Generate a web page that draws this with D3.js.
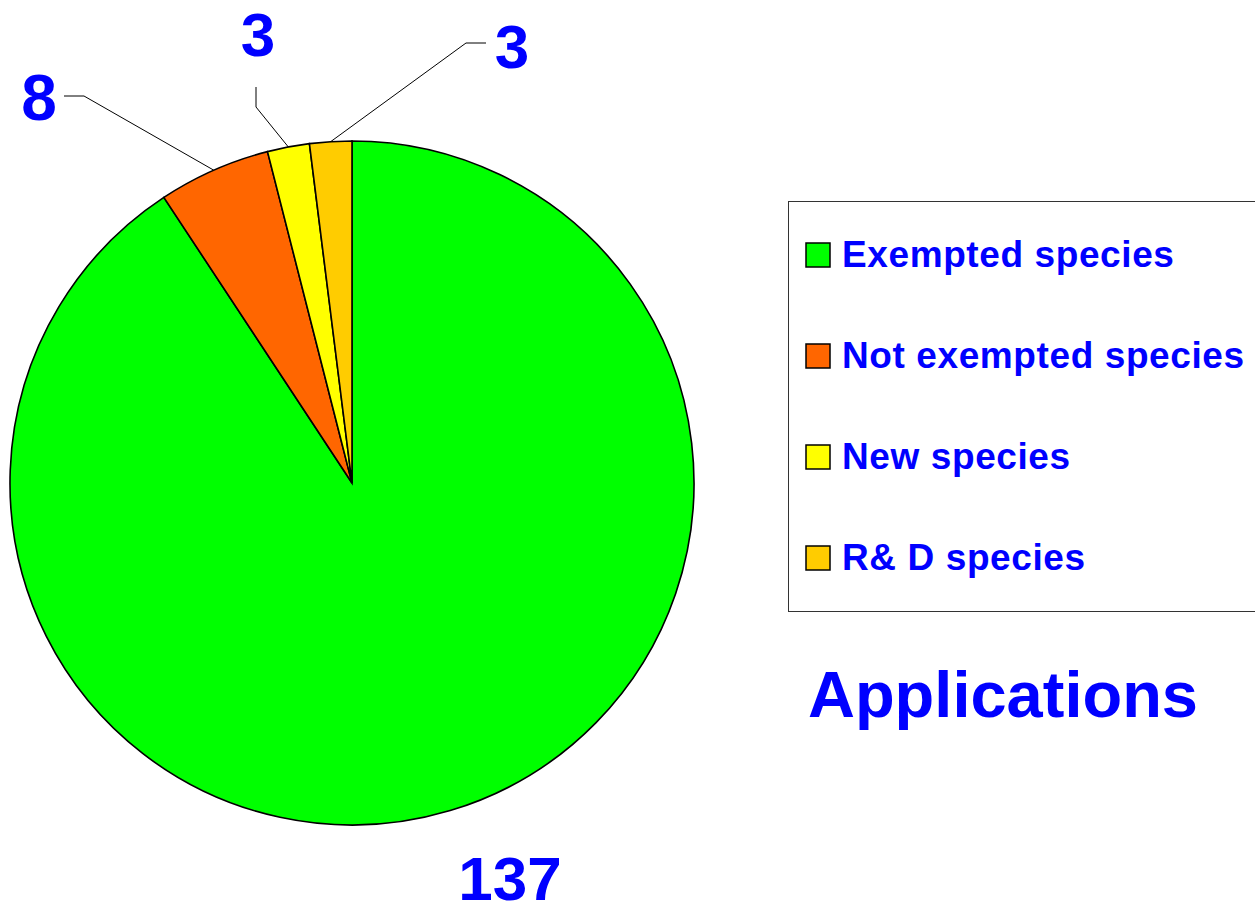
<!DOCTYPE html>
<html>
  <head>
    <title>Applications</title>
    <script src="https://cdnjs.cloudflare.com/ajax/libs/d3/7.8.5/d3.min.js"></script>
    <style>
      body {
        margin: 0;
        background: #ffffff;
        font-family: "Liberation Sans", Arial, Helvetica, sans-serif;
      }
      .slice {
        stroke: #000;
        stroke-width: 1.6px;
      }
      .leader {
        stroke: #000;
        stroke-width: 1px;
        fill: none;
      }
      .value-label,
      .legend-label,
      .title {
        fill: #0000ff;
        font-weight: bold;
      }
    </style>
  </head>
  <body>
    <svg id="chart" width="1255" height="907"></svg>
    <script>
      // Data
      const categories = [
        "Exempted species",
        "Not exempted species",
        "New species",
        "R& D species",
      ];
      const values = [137, 8, 3, 3];
      const colors = ["#00ff00", "#ff6600", "#ffff00", "#ffcc00"];
      const title = "Applications";

      const svg = d3.select("#chart");
      const cx = 352;
      const cy = 483;
      const radius = 342;

      const pie = d3.pie().sort(null).value((d) => d.value);
      const arc = d3.arc().innerRadius(0).outerRadius(radius);
      const rows = categories.map((c, i) => ({
        name: c,
        value: values[i],
        color: colors[i],
      }));
      const arcs = pie(rows);

      const g = svg.append("g").attr("transform", `translate(${cx},${cy})`);

      g.selectAll("path.slice")
        .data(arcs)
        .enter()
        .append("path")
        .attr("class", "slice")
        .attr("fill", (d) => d.data.color)
        .attr("d", arc);

      // Label placement (elbow point, label point relative to pie centre)
      const labelLayout = [
        { elbow: null, label: [158, 417], size: 62 },
        { elbow: [-268, -387], end: [-288, -387], label: [-313, -363], size: 64 },
        { elbow: [-96, -376], end: [-96, -396], label: [-94, -427], size: 62 },
        { elbow: [114, -440], end: [134, -440], label: [160, -415], size: 62 },
      ];

      const edgeArc = d3.arc().innerRadius(radius).outerRadius(radius);

      arcs.forEach((d, i) => {
        const lay = labelLayout[i];
        if (lay.elbow) {
          const p = edgeArc.centroid(d);
          g.append("polyline")
            .attr("class", "leader")
            .attr("points", [p, lay.elbow, lay.end].map((q) => q.join(",")).join(" "));
        }
        g.append("text")
          .attr("class", "value-label")
          .attr("x", lay.label[0])
          .attr("y", lay.label[1])
          .attr("text-anchor", "middle")
          .style("font-size", lay.size + "px")
          .text(d.data.value);
      });

      // Legend
      const legend = svg.append("g").attr("transform", "translate(788,201)");
      legend
        .append("rect")
        .attr("x", 0.5)
        .attr("y", 0.5)
        .attr("width", 520)
        .attr("height", 410)
        .attr("fill", "#fff")
        .attr("stroke", "#333")
        .attr("stroke-width", 1);

      const ly = d3.scalePoint().domain(categories).range([54, 357]);

      const items = legend
        .selectAll("g.item")
        .data(rows)
        .enter()
        .append("g")
        .attr("class", "item")
        .attr("transform", (d) => `translate(0,${ly(d.name)})`);

      items
        .append("rect")
        .attr("x", 18)
        .attr("y", -12)
        .attr("width", 24)
        .attr("height", 24)
        .attr("fill", (d) => d.color)
        .attr("stroke", "#000")
        .attr("stroke-width", 1.5);

      items
        .append("text")
        .attr("class", "legend-label")
        .attr("x", 54)
        .attr("y", 12)
        .style("font-size", "37px")
        .style("letter-spacing", "0.6px")
        .text((d) => d.name);

      svg
        .append("text")
        .attr("class", "title")
        .attr("x", 1003)
        .attr("y", 717)
        .attr("text-anchor", "middle")
        .style("font-size", "65px")
        .text(title);
    </script>
  </body>
</html>
